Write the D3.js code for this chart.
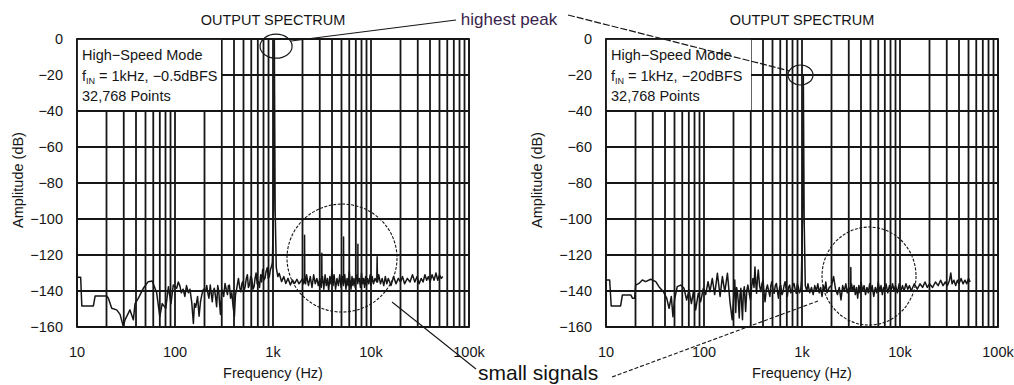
<!DOCTYPE html>
<html>
<head>
<meta charset="utf-8">
<script src="https://cdn.jsdelivr.net/npm/d3@7"></script>
<style>
  body { margin: 0; background: #fff; }
  svg { display: block; font-family: "Liberation Sans", Arial, sans-serif; }
</style>
</head>
<body>
<svg id="chart" width="1014" height="385"></svg>
<script>
// values, [frequency Hz, amplitude dB]
const leftSpectrum = [
    [10, -132.4], [10.9, -132.4], [11.2, -148.3], [14.7, -148.3], [15.3, -142.8], [20.1, -142.8],
    [20.9, -144], [22.6, -149.6], [25.4, -150.5], [27.5, -153], [29.7, -159.8], [30.9, -156],
    [34.7, -150.5], [37.6, -156], [39.1, -147], [42.3, -144], [47.5, -138.5], [53.3, -134.8],
    [58.6, -134.5], [65, -141], [70, -154.3], [74, -147], [80.5, -149.6], [85.7, -137.6],
    [91, -147], [96, -136.7], [104, -138.5], [108, -135], [112, -137], [116, -141], [121, -139],
    [126, -143], [131, -137], [137, -141], [142, -139], [148, -146], [154, -158], [158, -147],
    [163, -149], [170, -143], [176, -154], [182, -146], [188, -142], [195, -139], [206, -140],
    [211, -137], [216, -141], [222, -144], [229, -136.7], [234, -141], [240, -146], [246, -140],
    [252, -138.5], [259, -143], [266, -148.7], [273, -137], [280, -140.4], [285, -147],
    [291, -153], [298, -141], [305, -139.5], [314, -143], [324, -135.8], [333, -139],
    [343, -142], [351, -137], [359, -136.7], [369, -144], [380, -141], [392, -149],
    [404, -154], [414, -142], [424, -139.5], [434, -136], [444, -133], [457, -138],
    [470, -140.4], [481, -136], [492, -134.8], [506, -140], [520, -137.6], [534, -133],
    [548, -131], [561, -138], [575, -136.7], [591, -132], [607, -133], [624, -139],
    [641, -137.6], [656, -133], [672, -130], [690, -136], [708, -134.8], [728, -138],
    [749, -131], [766, -135], [785, -128], [806, -134], [828, -133], [851, -129],
    [875, -127], [895, -133], [916, -132], [943, -128], [970, -126],
    [985, -124], [1012, -95], [1026, -30], [1032, -0.5], [1038, -30], [1052, -95], [1080, -127],
    [1120, -132], [1157, -130.2], [1223, -134.8], [1289, -132], [1350, -135.8],
    [1424, -133], [1505, -136.7], [1577, -133.9], [1664, -135.8], [1755, -133.5], [1838, -136],
    [1942, -134.3], [2000, -133], [2050, -136], [2090, -134], [2100, -109], [2110, -134],
    [2150, -136], [2200, -131], [2300, -137], [2400, -132], [2500, -138], [2600, -131],
    [2700, -136], [2800, -133], [2900, -137], [3000, -133], [3100, -138], [3140, -134],
    [3150, -119], [3160, -135], [3200, -132], [3300, -139], [3400, -131], [3500, -137], [3600, -133],
    [3700, -140], [3800, -132], [3900, -136], [4000, -128], [4100, -137], [4200, -131],
    [4350, -139], [4500, -133], [4650, -137], [4800, -131], [4950, -138], [5100, -132],
    [5240, -137], [5250, -110], [5260, -136], [5400, -131], [5550, -139], [5700, -133],
    [5850, -137], [6000, -129], [6100, -134], [6250, -139], [6400, -132], [6550, -137],
    [6700, -133], [6900, -138], [7000, -134], [7200, -131], [7340, -136], [7350, -114],
    [7360, -135], [7600, -133], [7800, -138], [8000, -130], [8200, -136], [8400, -133],
    [8600, -138], [8800, -132], [9000, -137], [9200, -133], [9500, -136], [9800, -131],
    [10000, -137], [10300, -132], [10600, -136], [11000, -133], [11450, -135], [11550, -121],
    [11650, -135], [12000, -131], [12500, -136], [13000, -133], [13500, -137], [14000, -132],
    [14500, -136], [15000, -133], [16000, -137], [17000, -132], [18000, -136], [19000, -133],
    [20000, -135], [21000, -132], [22000, -136], [23500, -133], [25000, -135], [26500, -131],
    [28000, -135], [29500, -132], [31000, -136], [32500, -133], [34000, -135], [35500, -131],
    [37000, -134], [38500, -132], [40000, -135], [42000, -131], [44000, -134], [46000, -130],
    [48000, -134], [50000, -131], [52000, -133], [54000, -132]
];

const rightSpectrum = [
    [10, -133.9], [10.9, -133.9], [11.3, -148.3], [14.1, -148.3], [14.7, -142.2], [17.9, -142.2],
    [18.6, -144], [19.6, -144], [20.1, -136.7], [21.7, -135.8], [23.5, -133.9], [25.4, -134.8],
    [28.6, -133.5], [32.2, -134.8], [34.7, -137.6], [38.5, -140.4], [41.6, -144], [44, -149.6],
    [46.4, -143], [48.2, -154.3], [50, -145], [53.3, -137.6], [57.8, -136.7], [62.5, -138.5],
    [66.5, -145], [70.3, -139.5], [74.4, -147], [78, -140.4], [82.2, -150.5], [87.4, -141.3],
    [92.3, -146], [98.4, -138.5], [104, -142], [110, -134.8], [115, -140.4], [121.5, -133],
    [128.5, -142], [137, -130.2], [146, -143], [154, -132], [163, -140.4], [173.5, -130.2],
    [184, -146], [194, -156], [206, -133.9], [211, -152], [215, -138], [219, -140],
    [224, -146], [229, -155], [233, -142], [238, -138.5], [242, -147], [247, -156],
    [252, -141], [258, -137.6], [262, -145], [266, -151.4], [273, -140], [280, -136.7],
    [289, -141], [298, -145], [307, -137], [316, -133], [324, -138], [331, -126.6],
    [337, -135], [344, -141.3], [351, -133], [358, -128.4], [369, -137], [380, -140.4],
    [390, -136], [401, -133.9], [410, -141], [420, -146], [432, -139], [444, -136.7],
    [457, -140], [470, -143], [481, -137], [492, -134.8], [506, -139], [520, -141.3],
    [534, -137], [548, -135.8], [561, -140], [575, -144], [591, -138], [607, -136.7],
    [624, -142], [641, -140.4], [656, -137], [672, -134.8], [690, -139], [708, -143],
    [728, -138], [749, -136.7], [766, -141], [785, -140.4], [806, -137], [828, -135.8],
    [851, -139], [875, -141.3], [895, -136], [916, -137.6], [943, -141], [970, -139.5],
    [985, -134], [1012, -100], [1026, -45], [1032, -20], [1038, -45], [1052, -100], [1080, -137],
    [1120, -140], [1150, -136], [1200, -141], [1250, -138], [1300, -142],
    [1350, -137], [1400, -140], [1450, -136], [1500, -141], [1550, -138], [1600, -143],
    [1650, -137], [1700, -140], [1750, -135], [1800, -141], [1900, -138], [2000, -137],
    [2100, -132], [2200, -139], [2300, -142], [2400, -138], [2500, -145], [2600, -137],
    [2700, -140], [2800, -136], [2900, -141], [3000, -138], [3080, -140], [3140, -138],
    [3150, -127], [3160, -139], [3200, -136], [3300, -140], [3400, -137], [3500, -142], [3600, -138],
    [3700, -144], [3800, -137], [3900, -141], [4000, -135], [4150, -140], [4300, -137],
    [4450, -142], [4600, -138], [4750, -141], [4900, -136], [5050, -140], [5200, -137],
    [5400, -143], [5600, -138], [5800, -141], [6000, -135], [6200, -140], [6400, -137],
    [6600, -142], [6800, -138], [7000, -140], [7200, -136], [7500, -141], [7800, -137],
    [8100, -140], [8400, -136], [8700, -140], [9000, -137], [9400, -141], [9800, -136],
    [10200, -140], [10600, -137], [11000, -140], [11500, -136], [12000, -139], [12500, -137],
    [13000, -140], [14000, -136], [15000, -139], [16000, -136], [17000, -138], [18000, -135],
    [19000, -138], [20000, -136], [21500, -138], [23000, -135], [24500, -137], [26000, -134],
    [27500, -137], [29000, -135], [30500, -137], [32000, -134], [33000, -130], [34000, -136],
    [35500, -134], [37000, -137], [38500, -134], [40000, -136], [42000, -133], [44000, -136],
    [46000, -134], [48000, -136], [50000, -133], [52000, -135]
];

const yTicks = [0, -20, -40, -60, -80, -100, -120, -140, -160];
const xTickValues = [10, 100, 1000, 10000, 100000];
const xTickLabels = ["10", "100", "1k", "10k", "100k"];
const finLeft = " = 1kHz, −0.5dBFS";
const finRight = " = 1kHz, −20dBFS";

const svg = d3.select("#chart");
const ink = "#161616";
const plotTop = 39, plotBottom = 327, plotW = 392;

const panels = [
    {left: 77, data: leftSpectrum, fin: finLeft, boxW: 144, labelX: 19, peak: [1075, -4], peakR: [16, 12], ring: [5060, -121.7, 55, 54]},
    {left: 606, data: rightSpectrum, fin: finRight, boxW: 145, labelX: 538, peak: [966, -20], peakR: [12.5, 10], ring: [4830, -131.7, 47, 49]}
];

// grid frequencies 10,20..90,100,200..
let gridFreqs = [];
[10, 100, 1000, 10000].forEach(d => d3.range(1, 10).forEach(k => gridFreqs.push(d * k)));
gridFreqs.push(100000);

panels.forEach(p => {
    let x = d3.scaleLog().domain([10, 100000]).range([p.left, p.left + plotW]);
    let y = d3.scaleLinear().domain([-160, 0]).range([plotBottom, plotTop]);
    let g = svg.append("g");

    g.append("rect")
        .attr("x", p.left).attr("y", plotTop)
        .attr("width", plotW).attr("height", plotBottom - plotTop)
        .attr("fill", "#fff");

    g.selectAll(".vgrid")
        .data(gridFreqs)
        .join("line")
        .attr("x1", d => x(d)).attr("x2", d => x(d))
        .attr("y1", plotTop).attr("y2", plotBottom)
        .attr("stroke", ink).attr("stroke-width", 1.8);
    g.selectAll(".hgrid")
        .data(yTicks)
        .join("line")
        .attr("x1", p.left).attr("x2", p.left + plotW)
        .attr("y1", d => y(d)).attr("y2", d => y(d))
        .attr("stroke", ink).attr("stroke-width", 1.8);

    let line = d3.line()
        .x(d => x(d[0]))
        .y(d => y(d[1]));
    g.append("path")
        .datum(p.data)
        .attr("d", line)
        .attr("fill", "none")
        .attr("stroke", ink)
        .attr("stroke-width", 1.5)
        .attr("stroke-linejoin", "round");

    // legend box hides the grid
    g.append("rect")
        .attr("x", p.left).attr("y", plotTop)
        .attr("width", p.boxW).attr("height", y(-40) - plotTop - 1)
        .attr("fill", "#fff");
    let leg = g.append("text")
        .attr("font-size", 14.5)
        .attr("fill", ink);
    leg.append("tspan").attr("x", p.left + 5).attr("y", 60).text("High−Speed Mode");
    let l2 = leg.append("tspan").attr("x", p.left + 5).attr("y", 81);
    l2.append("tspan").text("f");
    l2.append("tspan").attr("font-size", 9).attr("dy", 3).text("IN");
    l2.append("tspan").attr("dy", -3).text(p.fin);
    leg.append("tspan").attr("x", p.left + 5).attr("y", 101).text("32,768 Points");

    g.append("rect")
        .attr("x", p.left).attr("y", plotTop)
        .attr("width", plotW).attr("height", plotBottom - plotTop)
        .attr("fill", "none")
        .attr("stroke", ink).attr("stroke-width", 1.8);

    // axes text
    g.selectAll(".ytick")
        .data(yTicks)
        .join("text")
        .attr("x", p.left - 14)
        .attr("y", d => y(d) + 5)
        .attr("text-anchor", "end")
        .attr("font-size", 14.5)
        .attr("fill", ink)
        .text(d => d3.format("d")(d));
    g.selectAll(".xtick")
        .data(xTickValues)
        .join("text")
        .attr("x", d => x(d))
        .attr("y", 357)
        .attr("text-anchor", "middle")
        .attr("font-size", 14.5)
        .attr("fill", ink)
        .text((d, i) => xTickLabels[i]);
    g.append("text")
        .attr("x", p.left + plotW / 2)
        .attr("y", 378)
        .attr("text-anchor", "middle")
        .attr("font-size", 14.5)
        .attr("fill", ink)
        .text("Frequency (Hz)");
    g.append("text")
        .attr("transform", `translate(${p.labelX}, 180) rotate(-90)`)
        .attr("text-anchor", "middle")
        .attr("dominant-baseline", "middle")
        .attr("font-size", 14.5)
        .attr("fill", ink)
        .text("Amplitude (dB)");
    g.append("text")
        .attr("x", p.left + plotW / 2)
        .attr("y", 25)
        .attr("text-anchor", "middle")
        .attr("font-size", 14.5)
        .attr("fill", ink)
        .text("OUTPUT SPECTRUM");

    // markup circles
    g.append("ellipse")
        .attr("cx", x(p.peak[0])).attr("cy", y(p.peak[1]))
        .attr("rx", p.peakR[0]).attr("ry", p.peakR[1])
        .attr("fill", "none").attr("stroke", ink).attr("stroke-width", 1.2);
    g.append("ellipse")
        .attr("cx", x(p.ring[0])).attr("cy", y(p.ring[1]))
        .attr("rx", p.ring[2]).attr("ry", p.ring[3])
        .attr("fill", "none").attr("stroke", ink).attr("stroke-width", 1.1)
        .attr("stroke-dasharray", "3,1.5");
});

// callouts
let notes = svg.append("g");
notes.append("text")
    .attr("x", 509).attr("y", 25)
    .attr("text-anchor", "middle")
    .attr("font-size", 17)
    .attr("fill", "#3a1f4c")
    .text("highest peak");
notes.append("line")
    .attr("x1", 291).attr("y1", 41).attr("x2", 456).attr("y2", 20)
    .attr("stroke", ink).attr("stroke-width", 1.2);
notes.append("line")
    .attr("x1", 568).attr("y1", 15).attr("x2", 790).attr("y2", 71)
    .attr("stroke", ink).attr("stroke-width", 1.2)
    .attr("stroke-dasharray", "7,2");

notes.append("text")
    .attr("x", 478).attr("y", 380)
    .attr("font-size", 21)
    .attr("fill", "#111")
    .text("small signals");
notes.append("line")
    .attr("x1", 392).attr("y1", 302).attr("x2", 476).attr("y2", 369)
    .attr("stroke", ink).attr("stroke-width", 1.1);
notes.append("line")
    .attr("x1", 612).attr("y1", 377).attr("x2", 818).attr("y2", 301)
    .attr("stroke", ink).attr("stroke-width", 1.1)
    .attr("stroke-dasharray", "4,2");
</script>
</body>
</html>
